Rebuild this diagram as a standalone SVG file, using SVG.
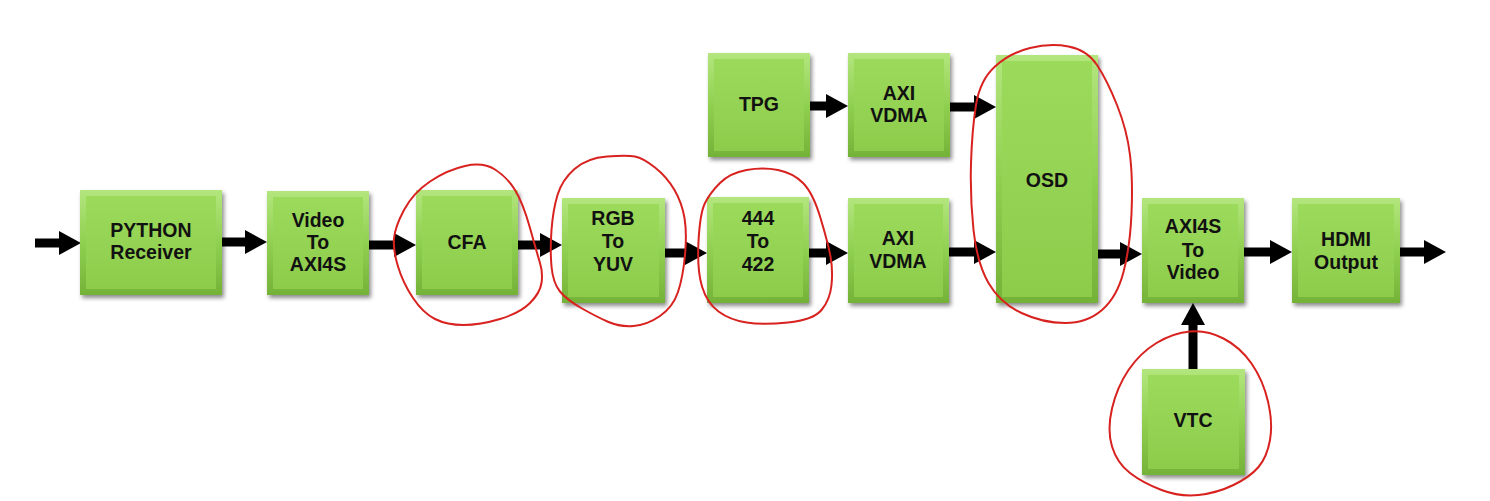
<svg xmlns="http://www.w3.org/2000/svg" width="1490" height="501" viewBox="0 0 1490 501">
<defs>
<linearGradient id="bev" x1="0" y1="0" x2="0" y2="1">
<stop offset="0" stop-color="#b3e67e"/>
<stop offset="0.5" stop-color="#90d050"/>
<stop offset="1" stop-color="#74b238"/>
</linearGradient>
<linearGradient id="face" x1="0" y1="0" x2="0" y2="1">
<stop offset="0" stop-color="#9cda5c"/>
<stop offset="1" stop-color="#8dcc4b"/>
</linearGradient>
<filter id="shadow" x="-20%" y="-20%" width="140%" height="140%">
<feDropShadow dx="2" dy="3" stdDeviation="2" flood-color="#000" flood-opacity="0.45"/>
</filter>
<marker id="ah" viewBox="0 0 22 24" refX="0" refY="12" markerWidth="22" markerHeight="24" markerUnits="userSpaceOnUse" orient="auto">
<path d="M0,0 L22,12 L0,24 Z" fill="#000"/>
</marker>
</defs>
<style>
.outer{fill:url(#bev);filter:url(#shadow)}
.inner{fill:url(#face)}
.lbl{font-family:"Liberation Sans",Arial,Helvetica,sans-serif;font-weight:bold;font-size:19.5px;fill:#111;text-anchor:middle}
.conn{stroke:#000;stroke-width:9;fill:none;marker-end:url(#ah)}
.loop{fill:none;stroke:#d8221f;stroke-width:2;stroke-linejoin:round}
</style>
<rect width="1490" height="501" fill="#fff"/>

<g id="connectors">
<line class="conn" x1="35" y1="243" x2="59" y2="243"/>
<line class="conn" x1="222" y1="242" x2="245" y2="242"/>
<line class="conn" x1="369" y1="245" x2="394" y2="245"/>
<line class="conn" x1="518" y1="245" x2="540" y2="245"/>
<line class="conn" x1="665" y1="253" x2="685" y2="253"/>
<line class="conn" x1="809" y1="253" x2="826" y2="253"/>
<line class="conn" x1="949" y1="252" x2="974" y2="252"/>
<line class="conn" x1="810" y1="106" x2="826" y2="106"/>
<line class="conn" x1="950" y1="107" x2="974" y2="107"/>
<line class="conn" x1="1098" y1="254" x2="1120" y2="254"/>
<line class="conn" x1="1244" y1="252" x2="1270" y2="252"/>
<line class="conn" x1="1400" y1="252" x2="1424" y2="252"/>
<line class="conn" x1="1193" y1="369" x2="1193" y2="325"/>
</g>

<g id="python">
<rect class="outer" x="80" y="190" width="142" height="105"/>
<rect class="inner" x="86" y="196" width="130" height="93"/>
<text class="lbl" x="151" y="237">PYTHON</text>
<text class="lbl" x="151" y="259">Receiver</text>
</g>
<g id="video2axi4s">
<rect class="outer" x="267" y="191" width="102" height="104"/>
<rect class="inner" x="273" y="197" width="90" height="92"/>
<text class="lbl" x="318" y="227">Video</text>
<text class="lbl" x="318" y="249">To</text>
<text class="lbl" x="318" y="271">AXI4S</text>
</g>
<g id="cfa">
<rect class="outer" x="416" y="190" width="102" height="105"/>
<rect class="inner" x="422" y="196" width="90" height="93"/>
<text class="lbl" x="467" y="249">CFA</text>
</g>
<g id="rgb2yuv">
<rect class="outer" x="562" y="198" width="103" height="105"/>
<rect class="inner" x="568" y="204" width="91" height="93"/>
<text class="lbl" x="613" y="225">RGB</text>
<text class="lbl" x="613" y="248">To</text>
<text class="lbl" x="613" y="271">YUV</text>
</g>
<g id="c444to422">
<rect class="outer" x="707" y="197" width="102" height="106"/>
<rect class="inner" x="713" y="203" width="90" height="94"/>
<text class="lbl" x="758" y="225">444</text>
<text class="lbl" x="758" y="248">To</text>
<text class="lbl" x="758" y="271">422</text>
</g>
<g id="vdma2">
<rect class="outer" x="848" y="198" width="101" height="105"/>
<rect class="inner" x="854" y="204" width="89" height="93"/>
<text class="lbl" x="898" y="245">AXI</text>
<text class="lbl" x="898" y="268">VDMA</text>
</g>
<g id="tpg">
<rect class="outer" x="708" y="53" width="102" height="104"/>
<rect class="inner" x="714" y="59" width="90" height="92"/>
<text class="lbl" x="759" y="111">TPG</text>
</g>
<g id="vdma1">
<rect class="outer" x="848" y="53" width="102" height="104"/>
<rect class="inner" x="854" y="59" width="90" height="92"/>
<text class="lbl" x="899" y="100">AXI</text>
<text class="lbl" x="899" y="122">VDMA</text>
</g>
<g id="osd">
<rect class="outer" x="996" y="55" width="102" height="248"/>
<rect class="inner" x="1002" y="61" width="90" height="236"/>
<text class="lbl" x="1047" y="187">OSD</text>
</g>
<g id="axi4s2video">
<rect class="outer" x="1142" y="198" width="102" height="105"/>
<rect class="inner" x="1148" y="204" width="90" height="93"/>
<text class="lbl" x="1193" y="233">AXI4S</text>
<text class="lbl" x="1193" y="257">To</text>
<text class="lbl" x="1193" y="279">Video</text>
</g>
<g id="hdmi">
<rect class="outer" x="1292" y="198" width="108" height="105"/>
<rect class="inner" x="1298" y="204" width="96" height="93"/>
<text class="lbl" x="1346" y="246">HDMI</text>
<text class="lbl" x="1346" y="269">Output</text>
</g>
<g id="vtc">
<rect class="outer" x="1142" y="369" width="103" height="106"/>
<rect class="inner" x="1148" y="375" width="91" height="94"/>
<text class="lbl" x="1193" y="427">VTC</text>
</g>

<g id="annotations">
<path class="loop" d="M465,166 Q447,170 430,181.5 Q413,193 404,210 Q395,227 394,238.5 Q393,250 398,266.5 Q403,283 413,298 Q423,313 435,319 Q447,325 463.5,325 Q480,325 500,319 Q520,313 530,303 Q540,293 541.5,283 Q543,273 540,263 Q537,253 530,228 Q523,203 515,190 Q507,177 495,169.5 Q483,162 465,166 Z"/>
<path class="loop" d="M607,156.5 Q587,158 574.5,169 Q562,180 557.5,195 Q553,210 551.5,230 Q550,250 551.5,266.5 Q553,283 560,291.5 Q567,300 582,308.5 Q597,317 608.5,322 Q620,327 633.5,326 Q647,325 660,316 Q673,307 678,292 Q683,277 685,255 Q687,233 684.5,218 Q682,203 674.5,190 Q667,177 655,167.5 Q643,158 635,156.5 Q627,155 607,156.5 Z"/>
<path class="loop" d="M746.5,170 Q730,173 720,183 Q710,193 705,203 Q700,213 698.5,241.5 Q697,270 702,286.5 Q707,303 718.5,311.5 Q730,320 746.5,322.5 Q763,325 788,322.5 Q813,320 821.5,310 Q830,300 831.5,285 Q833,270 830.5,256.5 Q828,243 820.5,218 Q813,193 803,183 Q793,173 778,170 Q763,167 746.5,170 Z"/>
<path class="loop" d="M1030,48 Q1010,53 995,66.5 Q980,80 976,105 Q972,130 971,163.5 Q970,197 973.5,230 Q977,263 988.5,283 Q1000,303 1021.5,313 Q1043,323 1065,323 Q1087,323 1102,310 Q1117,297 1123.5,272 Q1130,247 1131.5,213.5 Q1133,180 1130,155 Q1127,130 1117,105 Q1107,80 1097,65 Q1087,50 1068.5,46.5 Q1050,43 1030,48 Z"/>
<path class="loop" d="M1190,331.5 Q1173,333 1156.5,343 Q1140,353 1128.5,370 Q1117,387 1112,408.5 Q1107,430 1112,446.5 Q1117,463 1130,473 Q1143,483 1161.5,490 Q1180,497 1198.5,495 Q1217,493 1233.5,485 Q1250,477 1258.5,467 Q1267,457 1270,440 Q1273,423 1268,401.5 Q1263,380 1251.5,363.5 Q1240,347 1223.5,338.5 Q1207,330 1190,331.5 Z"/>
</g>
</svg>
